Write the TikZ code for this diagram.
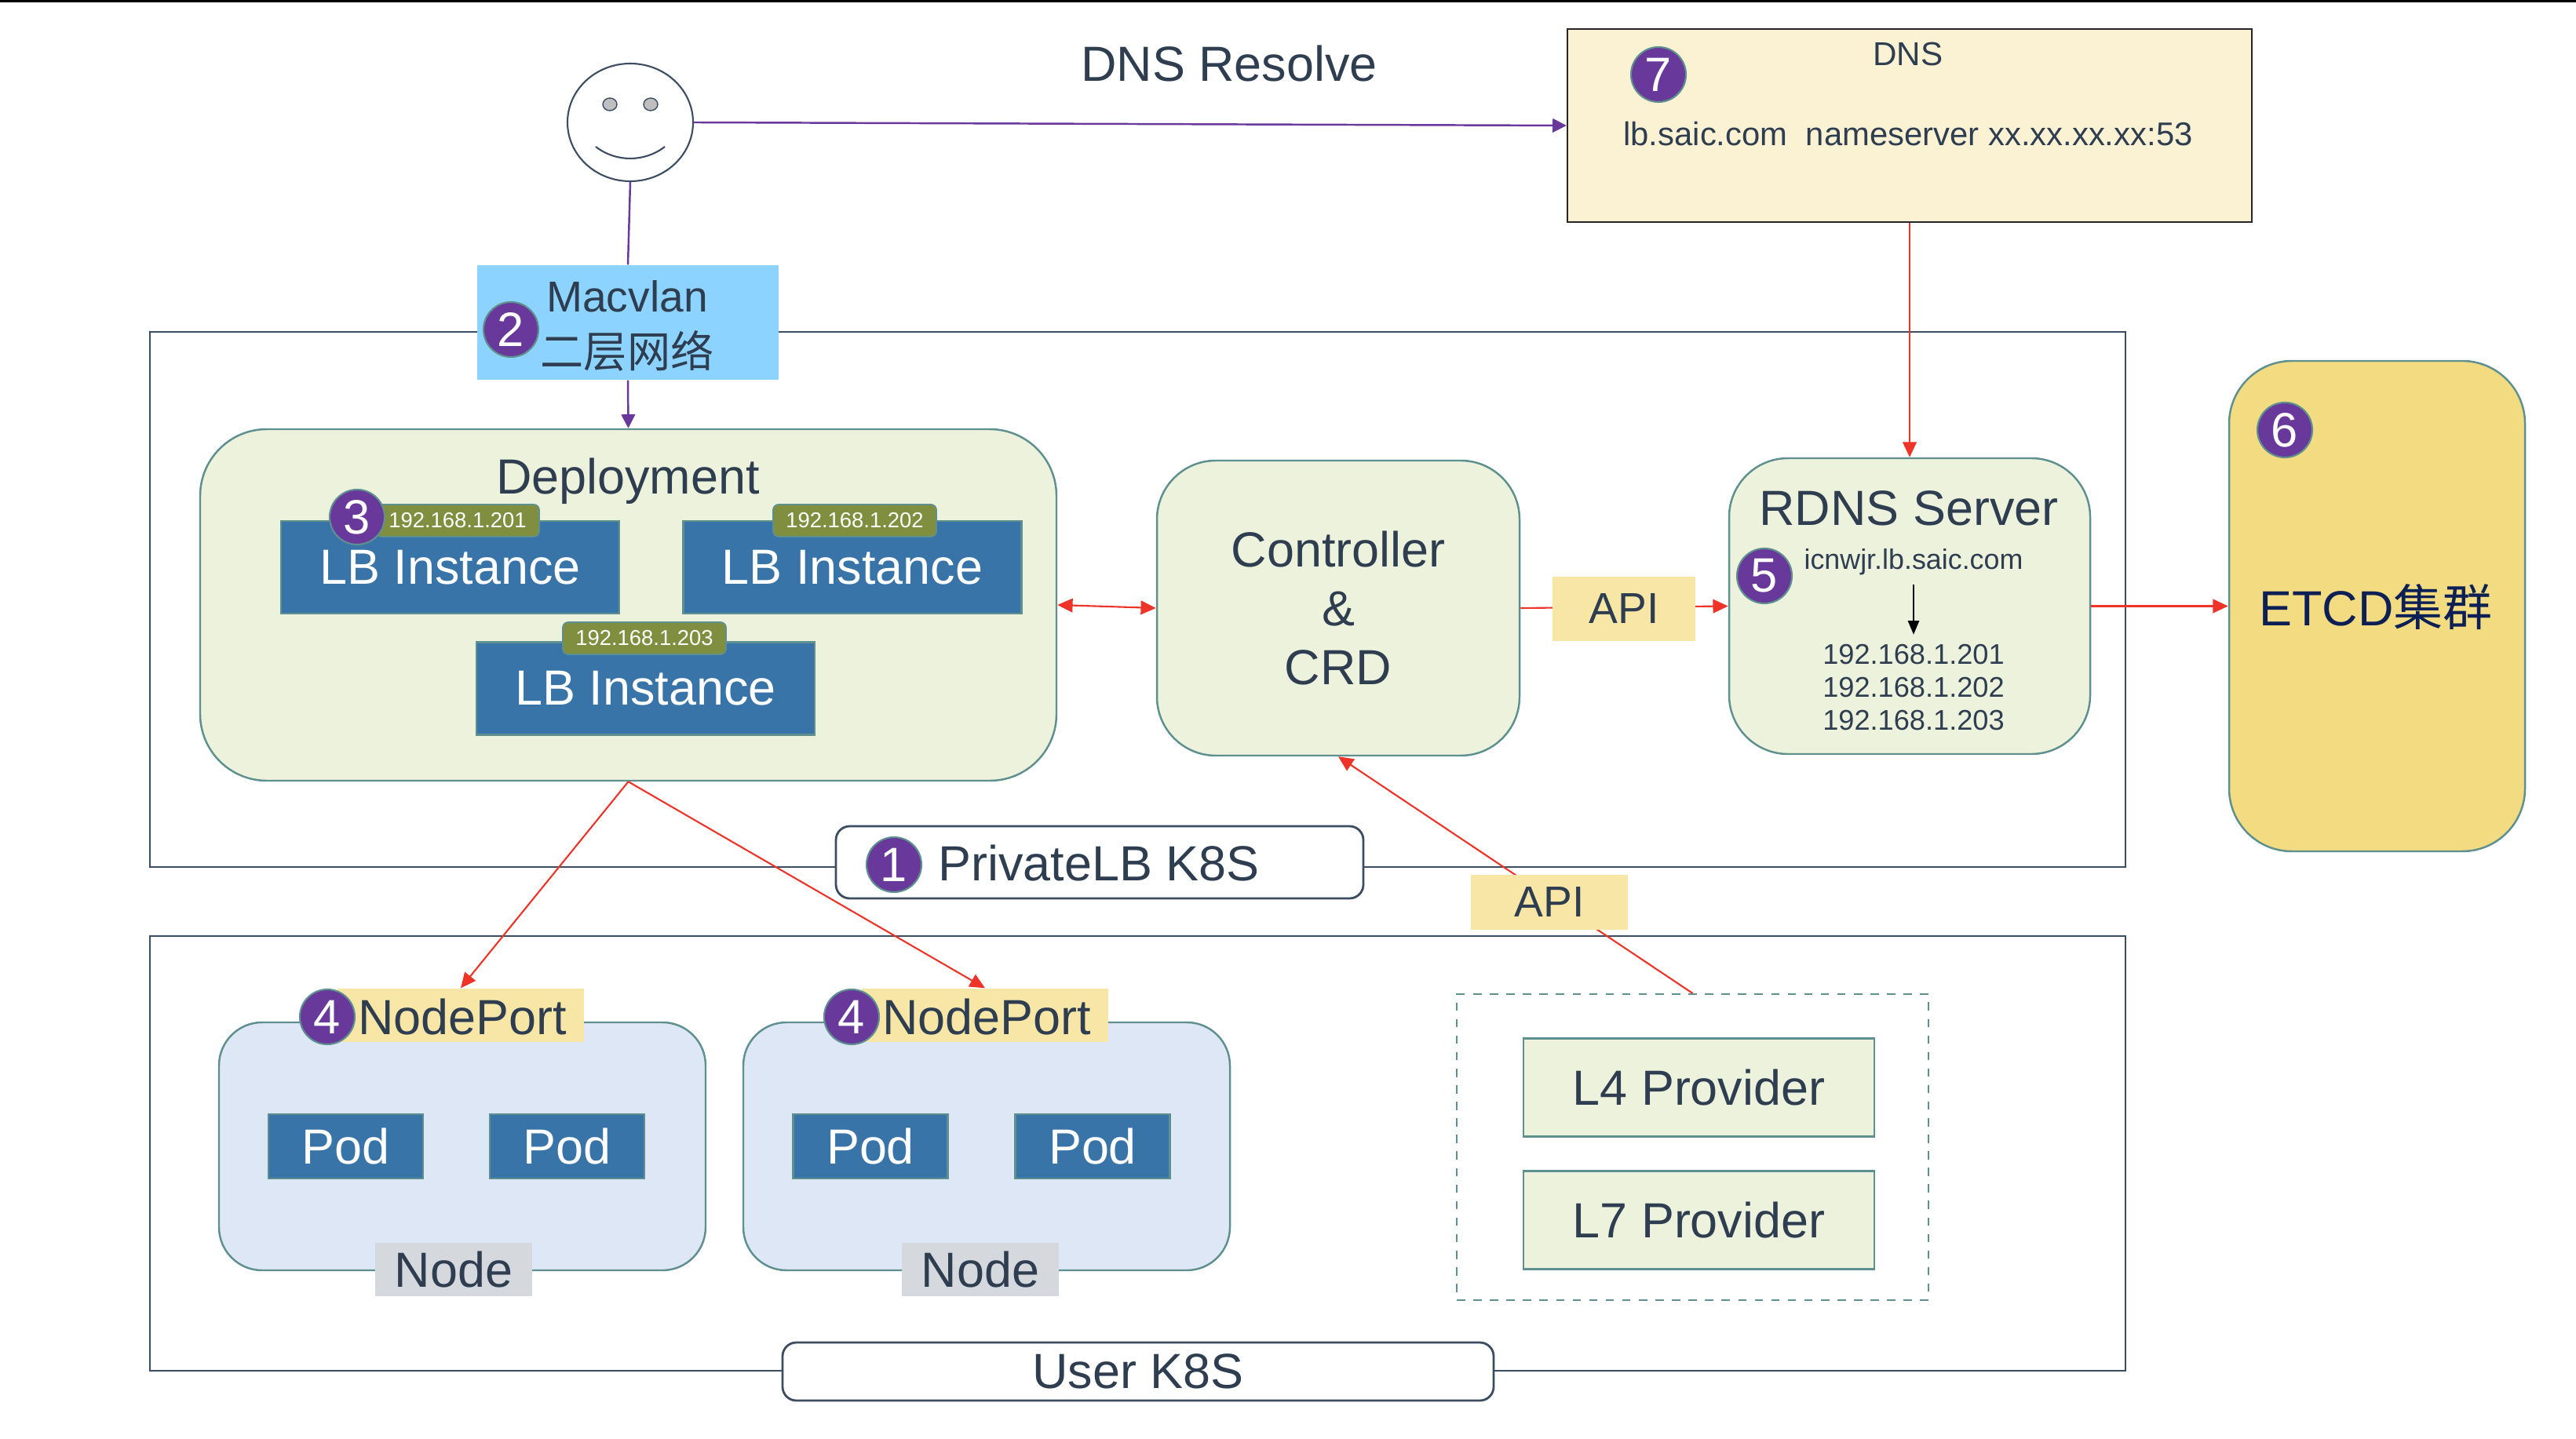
\documentclass[tikz,border=0pt]{standalone}
\usepackage{fontspec}
\setmainfont{Liberation Sans}
\newfontfamily\cjk{Noto Sans CJK SC}
\usepackage{xcolor}
\definecolor{FrameSlate}{RGB}{60,77,97}
\definecolor{TextSlate}{RGB}{46,62,80}
\definecolor{EdgeTeal}{RGB}{95,144,144}
\definecolor{PaleGreen}{RGB}{237,242,220}
\definecolor{PaleBlue}{RGB}{222,231,246}
\definecolor{BoxBlue}{RGB}{57,116,168}
\definecolor{TagOlive}{RGB}{127,143,63}
\definecolor{BadgePurple}{RGB}{104,56,154}
\definecolor{LinePurple}{RGB}{104,56,154}
\definecolor{LineRed}{RGB}{238,52,40}
\definecolor{TagYellow}{RGB}{247,230,165}
\definecolor{DnsCream}{RGB}{251,242,211}
\definecolor{EtcdGold}{RGB}{242,219,128}
\definecolor{EtcdNavy}{RGB}{12,32,85}
\definecolor{MacvlanSky}{RGB}{141,211,255}
\definecolor{NodeGrey}{RGB}{213,217,221}
\usepackage{tikz}
\usetikzlibrary{positioning, arrows.meta, shapes.geometric}
\newcommand{\bigfont}{\fontsize{17.9}{21.1}\selectfont}
\tikzset{
  cluster/.style={draw=FrameSlate, line width=0.8pt},
  clusterlabel/.style={draw=FrameSlate, fill=white, line width=0.8pt, rounded corners=5pt, text=TextSlate, inner sep=0pt},
  softbox/.style={draw=EdgeTeal, fill=PaleGreen, line width=0.7pt, text=TextSlate, inner sep=0pt, align=center},
  bluebox/.style={draw=EdgeTeal, fill=BoxBlue, line width=0.6pt, text=white, inner sep=0pt},
  iptag/.style={draw=EdgeTeal, fill=TagOlive, line width=0.5pt, rounded corners=2pt, text=white, inner sep=0pt, minimum width=2.08cm, minimum height=0.41cm, font=\fontsize{7.8}{9}\selectfont},
  badge/.style={circle, draw=EdgeTeal, fill=BadgePurple, line width=0.6pt, text=white, inner sep=0pt, minimum size=0.7cm, font=\fontsize{17.5}{20}\selectfont},
  yellowtag/.style={fill=TagYellow, text=TextSlate, inner sep=0pt},
  greytag/.style={fill=NodeGrey, text=TextSlate, inner sep=0pt, minimum width=2cm, minimum height=0.68cm, font=\bigfont},
  podbox/.style={bluebox, minimum width=1.97cm, minimum height=0.82cm, font=\bigfont},
  lbbox/.style={bluebox, minimum width=4.31cm, minimum height=1.18cm, font=\bigfont},
  nodebox/.style={draw=EdgeTeal, fill=PaleBlue, line width=0.7pt, rounded corners=0.55cm, minimum width=6.2cm, minimum height=3.16cm},
  providerbox/.style={softbox, minimum width=4.47cm, minimum height=1.25cm, font=\bigfont},
  purpleline/.style={draw=LinePurple, line width=0.7pt, -{Triangle[length=5pt,width=5pt]}},
  redline/.style={draw=LineRed, line width=0.6pt, -{Triangle[length=5.5pt,width=5pt]}},
}

\begin{document}
\begin{tikzpicture}
	\useasboundingbox (0,0) rectangle (32.82,-18.34);
	\draw[black, line width=1pt] (0,-0.01) -- (32.82,-0.01);

	% Clusters
	\node[cluster, minimum width=25.17cm, minimum height=6.82cm, inner sep=0pt] (privatek8s) at (14.495,-7.64) {};
	\node[cluster, minimum width=25.17cm, minimum height=5.54cm, inner sep=0pt] (userk8s) at (14.495,-14.70) {};

	% Client face
	\node[ellipse, draw=FrameSlate, fill=white, line width=0.6pt, minimum width=1.6cm, minimum height=1.5cm, inner sep=0pt] (face) at (8.03,-1.56) {};
	\node[ellipse, draw=FrameSlate, fill=gray!50, line width=0.4pt, minimum width=0.18cm, minimum height=0.16cm, inner sep=0pt] (lefteye) at (7.77,-1.33) {};
	\node[ellipse, draw=FrameSlate, fill=gray!50, line width=0.4pt, minimum width=0.18cm, minimum height=0.16cm, inner sep=0pt] (righteye) at (8.29,-1.33) {};
	\draw[FrameSlate, line width=0.6pt] (7.59,-1.87) .. controls (7.85,-2.07) and (8.21,-2.07) .. (8.47,-1.87);

	\node[font=\bigfont, text=TextSlate] (dnsresolve) at (15.66,-0.81) {DNS Resolve};

	% DNS
	\node[draw=black!85, fill=DnsCream, line width=0.7pt, minimum width=8.72cm, minimum height=2.46cm, inner sep=0pt] (dns) at (24.33,-1.60) {};
	\node[font=\fontsize{12}{14}\selectfont, text=TextSlate] (dnstitle) at (24.31,-0.69) {DNS};
	\node[font=\fontsize{11.9}{14}\selectfont, text=TextSlate] (dnsrecord) at (24.31,-1.71) {lb.saic.com\ \ nameserver xx.xx.xx.xx:53};

	% Macvlan
	\node[fill=MacvlanSky, minimum width=3.84cm, minimum height=1.46cm, inner sep=0pt] (macvlan) at (8.00,-4.11) {};
	\node[font=\fontsize{15.7}{18}\selectfont, text=TextSlate] (macvlantext) at (7.99,-3.78) {Macvlan};
	\node[font=\fontsize{15.7}{18}\selectfont\cjk, text=TextSlate] (macvlancn) at (7.99,-4.47) {二层网络};

	% Deployment
	\node[softbox, rounded corners=0.85cm, minimum width=10.91cm, minimum height=4.48cm] (deployment) at (8.005,-7.71) {};
	\node[font=\bigfont, text=TextSlate] (deploytext) at (8.00,-6.13) {Deployment};
	\node[lbbox] (lba) at (5.735,-7.23) {LB Instance};
	\node[lbbox] (lbb) at (10.86,-7.23) {LB Instance};
	\node[lbbox] (lbc) at (8.225,-8.775) {LB Instance};
	\node[iptag] (ipa) at (5.83,-6.635) {192.168.1.201};
	\node[iptag] (ipb) at (10.89,-6.635) {192.168.1.202};
	\node[iptag] (ipc) at (8.21,-8.135) {192.168.1.203};

	% Controller and RDNS
	\node[softbox, rounded corners=0.75cm, minimum width=4.62cm, minimum height=3.76cm, font=\bigfont] (controller) at (17.05,-7.75) {Controller\\[0.2pt]\&\\[0.2pt]CRD};
	\node[softbox, rounded corners=0.75cm, minimum width=4.60cm, minimum height=3.77cm] (rdns) at (24.33,-7.725) {};
	\node[font=\bigfont, text=TextSlate] (rdnstext) at (24.32,-6.48) {RDNS Server};
	\node[font=\fontsize{10.2}{12}\selectfont, text=TextSlate] (rdnshost) at (24.38,-7.16) {icnwjr.lb.saic.com};
	\node[font=\fontsize{10.3}{11.95}\selectfont, text=TextSlate, align=center] (rdnsips) at (24.38,-8.76) {192.168.1.201\\192.168.1.202\\192.168.1.203};
	\draw[black, line width=0.7pt, -{Triangle[length=5pt,width=4pt]}] (rdnshost.south) -- (rdnsips.north);

	% ETCD
	\node[draw=EdgeTeal, fill=EtcdGold, line width=0.7pt, rounded corners=0.8cm, minimum width=3.77cm, minimum height=6.25cm, inner sep=0pt] (etcd) at (30.285,-7.725) {};
	\node[font=\bigfont, text=EtcdNavy] (etcdtext) at (30.27,-7.74) {ETCD{\cjk 集群}};

	% Nodes and pods
	\node[nodebox] (nodea) at (5.89,-14.61) {};
	\node[nodebox] (nodeb) at (12.57,-14.61) {};
	\node[yellowtag, minimum width=3.14cm, minimum height=0.68cm] (porta) at (5.87,-12.94) {};
	\node[yellowtag, minimum width=3.14cm, minimum height=0.68cm] (portb) at (12.55,-12.94) {};
	\node[font=\bigfont, text=TextSlate] (porttexta) at (5.89,-12.96) {NodePort};
	\node[font=\bigfont, text=TextSlate] (porttextb) at (12.57,-12.96) {NodePort};
	\node[podbox] (poda) at (4.405,-14.61) {Pod};
	\node[podbox] (podb) at (7.225,-14.61) {Pod};
	\node[podbox] (podc) at (11.09,-14.61) {Pod};
	\node[podbox] (podd) at (13.92,-14.61) {Pod};
	\node[greytag] (nodetexta) at (5.78,-16.18) {Node};
	\node[greytag] (nodetextb) at (12.49,-16.18) {Node};

	% Providers
	\node[draw=EdgeTeal, dashed, line width=0.6pt, minimum width=6.01cm, minimum height=3.90cm, inner sep=0pt] (providers) at (21.565,-14.62) {};
	\node[providerbox] (lfour) at (21.645,-13.86) {L4 Provider};
	\node[providerbox] (lseven) at (21.645,-15.55) {L7 Provider};

	% Connections
	\draw[purpleline] (face.east) -- (dns.west);
	\draw[draw=LinePurple, line width=0.7pt] (face.south) -- (macvlan.north);
	\draw[purpleline] (macvlan.south) -- (deployment.north);
	\draw[redline] (dns.south) -- (rdns.north);
	\draw[redline, {Triangle[length=5.5pt,width=5pt]}-{Triangle[length=5.5pt,width=5pt]}] (deployment.east) -- (controller.west);
	\draw[redline] (controller.east) -- (rdns.west);
	\draw[redline] (rdns.east) -- (etcd.west);
	\draw[redline] (deployment.south) -- (porta.north);
	\draw[redline] (deployment.south) -- (portb.north);
	\draw[redline] (providers.north) -- (controller.south);

	% Labels on top of the lines
	\node[yellowtag, minimum width=1.82cm, minimum height=0.82cm, font=\fontsize{15.7}{18}\selectfont] (apiright) at (20.69,-7.76) {API};
	\node[yellowtag, minimum width=2cm, minimum height=0.70cm, font=\fontsize{15.7}{18}\selectfont] (apibottom) at (19.74,-11.50) {API};
	\node[clusterlabel, minimum width=6.72cm, minimum height=0.92cm] (privatelabel) at (14.01,-10.99) {};
	\node[font=\bigfont, text=TextSlate] (privatetext) at (14.00,-11.00) {PrivateLB K8S};
	\node[clusterlabel, minimum width=9.06cm, minimum height=0.74cm, font=\bigfont] (userlabel) at (14.50,-17.48) {User K8S};

	% Badges
	\node[badge] (badgeone) at (11.39,-11.02) {1};
	\node[badge] (badgetwo) at (6.51,-4.20) {2};
	\node[badge] (badgethree) at (4.55,-6.59) {3};
	\node[badge] (badgefoura) at (4.17,-12.96) {4};
	\node[badge] (badgefourb) at (10.85,-12.96) {4};
	\node[badge] (badgefive) at (22.48,-7.34) {5};
	\node[badge] (badgesix) at (29.11,-5.48) {6};
	\node[badge] (badgeseven) at (21.13,-0.95) {7};
\end{tikzpicture}
\end{document}
